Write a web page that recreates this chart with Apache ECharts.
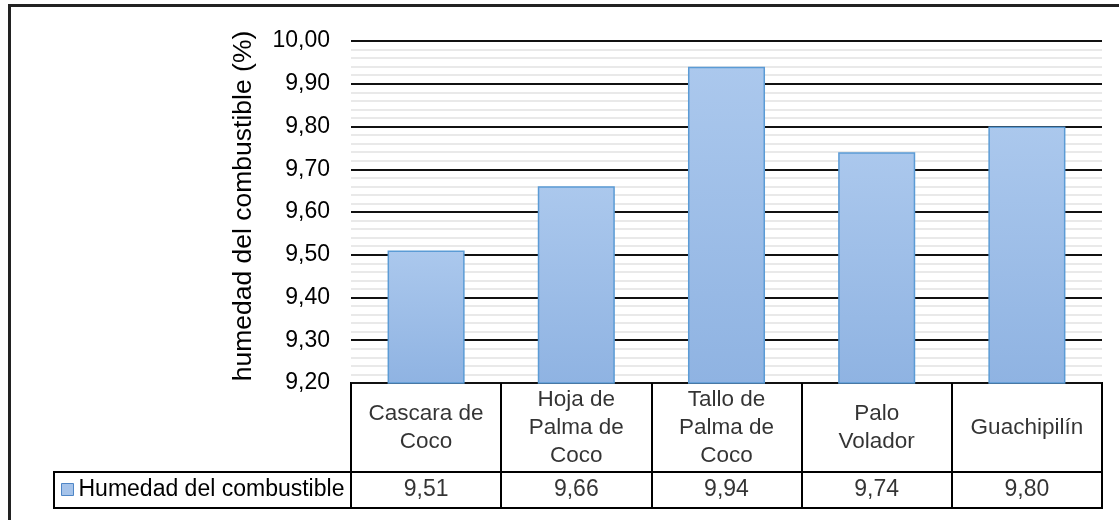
<!DOCTYPE html>
<html><head><meta charset="utf-8">
<script src="https://cdn.jsdelivr.net/npm/echarts@6/dist/echarts.min.js"></script>
<style>html,body{margin:0;padding:0;background:#fff}#c{width:1119px;height:520px}</style>
</head><body><div id="c"></div>
<script>
// ---- data ----
const categories = ['Cascara de\nCoco', 'Hoja de\nPalma de\nCoco', 'Tallo de\nPalma de\nCoco', 'Palo\nVolador', 'Guachipilín'];
const seriesName = 'Humedad del combustible';
const values = [9.51, 9.66, 9.94, 9.74, 9.80];
const yMin = 9.2, yMax = 10.0, yInterval = 0.1;
const yTitle = 'humedad del combustible (%)';

const FONT = 'Liberation Sans, Arial, sans-serif';
const fmt = v => v.toFixed(2).replace('.', ',');

const chart = echarts.init(document.getElementById('c'), null, {renderer: 'canvas'});

const tableXAxis = (gi) => ({
  type: 'category', gridIndex: gi, data: categories,
  axisLine: {show: false}, axisTick: {show: false}, axisLabel: {show: false, interval: 0},
  splitLine: {show: true, interval: 0, lineStyle: {color: '#000', width: 2}}
});
const tableYAxis = (gi) => ({type: 'value', gridIndex: gi, min: 0, max: 1, show: false});

chart.setOption({
  animation: false,
  backgroundColor: '#fff',
  textStyle: {fontFamily: FONT},
  grid: [
    {left: 351, right: 17, top: 41, height: 342},
    {left: 351, right: 17, top: 383, height: 89, show: true, borderColor: '#000', borderWidth: 2, backgroundColor: 'transparent'},
    {left: 351, right: 17, top: 472, height: 36, show: true, borderColor: '#000', borderWidth: 2, backgroundColor: 'transparent'}
  ],
  xAxis: [
    {type: 'category', gridIndex: 0, data: categories, axisLine: {show: false}, axisTick: {show: false}, axisLabel: {show: false}, splitLine: {show: false}},
    tableXAxis(1), tableXAxis(2)
  ],
  yAxis: [
    {type: 'value', gridIndex: 0, min: yMin, max: yMax, interval: yInterval,
     name: yTitle, nameLocation: 'middle', nameRotate: 90, nameGap: 94,
     nameTextStyle: {fontSize: 26.5, color: '#000', fontFamily: FONT, padding: [0, 0, 0, 12]},
     axisLine: {show: false}, axisTick: {show: false},
     axisLabel: {fontSize: 23, color: '#000', margin: 21, fontFamily: FONT, formatter: v => fmt(v)},
     splitLine: {show: true, lineStyle: {color: '#111', width: 2}},
     minorTick: {show: false, splitNumber: 5},
     minorSplitLine: {show: true, lineStyle: {color: '#e2e2e2', width: 1.5}}
    },
    tableYAxis(1), tableYAxis(2)
  ],
  legend: {
    left: 61, top: 472, padding: [6, 0, 6, 0], itemWidth: 12, itemHeight: 12, icon: 'rect',
    selectedMode: false,
    textStyle: {fontSize: 23, color: '#000', fontFamily: FONT},
    data: [{name: seriesName, itemStyle: {color: '#a5c3ea', borderColor: '#4f86c6', borderWidth: 1}}]
  },
  series: [
    {
      name: seriesName, type: 'bar', xAxisIndex: 0, yAxisIndex: 0, data: values,
      barCategoryGap: '48.7%',
      itemStyle: {
        color: new echarts.graphic.LinearGradient(0, 0, 0, 1, [
          {offset: 0, color: '#abc8ed'}, {offset: 1, color: '#8fb3e2'}
        ]),
        borderColor: '#5b9bd5', borderWidth: 1.5
      },
      emphasis: {disabled: true}
    },
    {
      type: 'scatter', xAxisIndex: 1, yAxisIndex: 1, symbolSize: 1,
      itemStyle: {color: 'rgba(0,0,0,0)'}, silent: true,
      data: categories.map((c, i) => [i, 0.5]),
      label: {show: true, position: 'inside', fontSize: 22.5, lineHeight: 28, color: '#000', fontFamily: FONT, align: 'center',
        formatter: p => categories[p.dataIndex]}
    },
    {
      type: 'scatter', xAxisIndex: 2, yAxisIndex: 2, symbolSize: 1,
      itemStyle: {color: 'rgba(0,0,0,0)'}, silent: true,
      data: values.map((v, i) => [i, 0.5]),
      label: {show: true, position: 'inside', fontSize: 23, color: '#000', fontFamily: FONT,
        formatter: p => fmt(values[p.dataIndex])}
    }
  ],
  graphic: [
    {type: 'rect', shape: {x: 9.5, y: 5.5, width: 1130, height: 540}, style: {fill: 'none', stroke: '#222', lineWidth: 3}, silent: true},
    {type: 'rect', shape: {x: 54, y: 472, width: 297, height: 36}, style: {fill: 'none', stroke: '#000', lineWidth: 2}, silent: true}
  ]
});
</script>
</body></html>
